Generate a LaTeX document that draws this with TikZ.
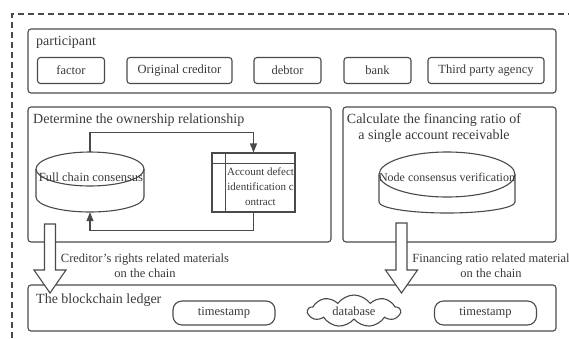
\documentclass[tikz,border=0pt]{standalone}
\usepackage{fontspec}
\setmainfont{Liberation Serif}
\usetikzlibrary{arrows.meta,shapes.symbols,calc}
\definecolor{ln}{HTML}{4A4A4A}
\definecolor{tx}{HTML}{3A3A3A}
\begin{document}
\begin{tikzpicture}[x=1pt,y=1pt,
  grp/.style={draw=ln,line width=1.1pt,rounded corners=3pt,inner sep=0pt},
  item/.style={draw=ln,line width=1.1pt,rounded corners=3pt,minimum height=26pt,inner sep=0pt,font=\fontsize{12.5}{14}\selectfont,text=tx},
  ttl/.style={inner sep=0pt,font=\fontsize{14}{16}\selectfont,text=tx},
  lbl/.style={inner sep=0pt,font=\fontsize{12.5}{15}\selectfont,text=tx,align=center},
  conn/.style={draw=ln,line width=1.1pt,-{Triangle[length=9pt,width=7pt]}},
  shp/.style={draw=ln,line width=1.1pt},
  bigarrow/.style={draw=ln,line width=1.1pt,fill=white,line join=miter},
  ts/.style={draw=ln,line width=1.1pt,rounded corners=9pt,minimum width=102pt,minimum height=24pt,inner sep=0pt,font=\fontsize{12.5}{14}\selectfont,text=tx},
]
\useasboundingbox (0,0) rectangle (569,-338);
\fill[white] (0,0) rectangle (569,-338);
\draw[ln,line width=1.1pt,dash pattern=on 6pt off 4pt] (12,-338) -- (12,-14) -- (569,-14);

% participant
\node[grp,minimum width=528pt,minimum height=64pt] (part) at (292,-61) {};
\node[ttl,anchor=west] (partl) at (36,-42) {participant};
\node[item,minimum width=67pt] (factor) at (71,-70.5) {factor};
\node[item,minimum width=105pt] (orig) at (179.5,-70.5) {Original creditor};
\node[item,minimum width=67pt] (debtor) at (287.5,-70.5) {debtor};
\node[item,minimum width=67pt] (bank) at (377.5,-70.5) {bank};
\node[item,minimum width=116pt] (third) at (486,-70.5) {Third party agency};

% left group
\node[grp,minimum width=303pt,minimum height=135pt] (own) at (179.5,-174.5) {};
\node[ttl,anchor=west] (ownl) at (33,-120) {Determine the ownership relationship};

% full chain consensus cylinder
\node[inner sep=0pt,minimum width=108pt,minimum height=60pt] (fcc) at (90,-182) {};
\draw[shp] (90,-169) ellipse [x radius=54, y radius=17];
\draw[shp] (36,-169) -- (36,-197) arc [start angle=180, end angle=360, x radius=54, y radius=15] -- (144,-169);
\node[inner sep=0pt,font=\fontsize{12.5}{14}\selectfont,text=tx] (fcct) at (91,-177) {Full chain consensus};

% account defect contract (internal storage)
\node[shp,inner sep=0pt,minimum width=83pt,minimum height=59pt] (adc) at (253.5,-182.5) {};
\draw[shp] ($(adc.north west)+(14,0)$) -- ($(adc.south west)+(14,0)$);
\draw[shp] ($(adc.north west)+(0,-11)$) -- ($(adc.north east)+(0,-11)$);
\node[inner sep=0pt,font=\fontsize{11}{15}\selectfont,text=tx,align=center] (adct) at (260.5,-187) {Account defect\\identification c\\ontract};

\draw[conn] (fcc.north) -- ++(0,19) -| (adc.north);
\draw[conn] (adc.south) -- ++(0,-18) -| (fcc.south);

% right group
\node[grp,minimum width=213pt,minimum height=135pt] (fin) at (449.5,-174.5) {};
\node[ttl,align=center,font=\fontsize{14}{16}\selectfont] (finl) at (434,-128) {Calculate the financing ratio of\\a single account receivable};
\node[inner sep=0pt,minimum width=136pt,minimum height=61pt] (ncv) at (447,-182.5) {};
\draw[shp] (447,-174.5) ellipse [x radius=68, y radius=22.5];
\draw[shp] (379,-174.5) -- (379,-202) arc [start angle=180, end angle=360, x radius=68, y radius=11] -- (515,-174.5);
\node[inner sep=0pt,font=\fontsize{12}{14}\selectfont,text=tx] (ncvt) at (447,-177) {Node consensus verification};

% ledger
\node[grp,minimum width=528pt,minimum height=46pt] (ledger) at (292,-308) {};
\node[ttl,anchor=west] (ledgerl) at (36,-300) {The blockchain ledger};
\node[ts] (ts1) at (224,-313) {timestamp};
\node[draw=ln,line width=1.1pt,cloud,cloud puffs=9,cloud puff arc=110,aspect=3,minimum width=92pt,minimum height=32pt,inner sep=0pt,font=\fontsize{12.5}{14}\selectfont,text=tx] (db) at (354,-311) {database};
\node[ts] (ts2) at (485.5,-313) {timestamp};

% big arrows
\coordinate (la) at (50,-224);
\coordinate (ra) at (401.5,-223);
\draw[bigarrow] (la) ++(-5.5,0) -- ++(11,0) -- ++(0,-46) -- ++(10.5,0) -- ++(-16,-23) -- ++(-16,23) -- ++(10.5,0) -- cycle;
\draw[bigarrow] (ra) ++(-5.5,0) -- ++(11,0) -- ++(0,-47) -- ++(10.5,0) -- ++(-16,-23) -- ++(-16,23) -- ++(10.5,0) -- cycle;

\node[lbl] (cl) at (145,-265.5) {Creditor's rights related materials\\on the chain};
\node[lbl] (fl) at (491,-265.5) {Financing ratio related material\\on the chain};
\end{tikzpicture}
\end{document}
